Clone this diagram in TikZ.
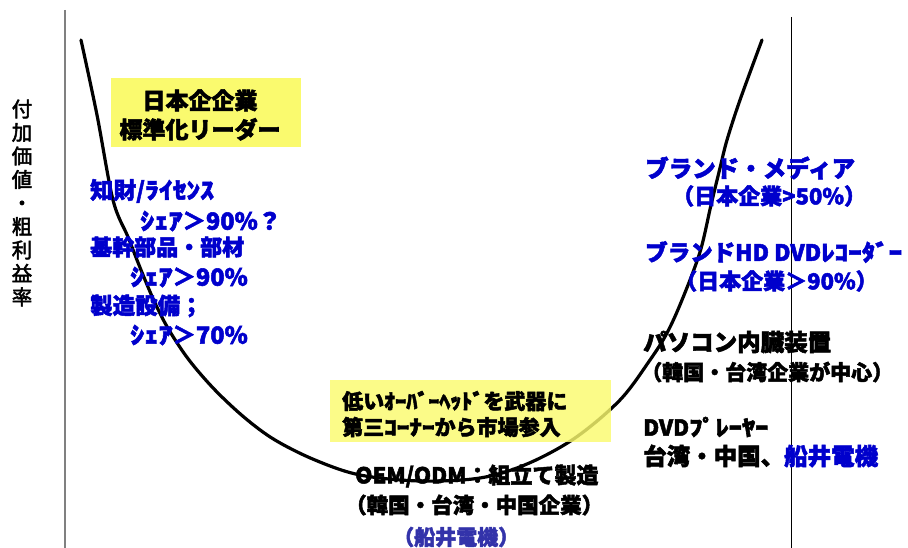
\documentclass[tikz,border=0pt]{standalone}
\usepackage{fontspec}
\usepackage{graphicx}
\setmainfont{Noto Sans CJK JP}[BoldFeatures={FakeBold=2.2}]
\newfontfamily\axfont{Noto Sans CJK JP}[FakeBold=2.5]
\definecolor{tblue}{RGB}{0,0,204}
\definecolor{fblue}{RGB}{51,51,170}
\definecolor{boxy}{RGB}{250,250,110}
\definecolor{axgray}{RGB}{128,128,128}
\newcommand\hk[1]{\scalebox{1.2}[1]{#1}}
\newcommand\hkn[1]{\scalebox{1.05}[1]{#1}}
\newcommand\fs[1]{\fontsize{#1}{#1}\selectfont}
\tikzset{
  lbl/.style={anchor=west, inner sep=0pt, font=\bfseries},
  bl/.style={lbl, text=tblue},
  ybox/.style={fill=boxy, draw=none},
}
\begin{document}
\begin{tikzpicture}[x=1pt,y=-1pt]
\useasboundingbox (0,0) rectangle (908,548);
% axes
\coordinate (lt) at (65,10); \coordinate (lb) at (65,548);
\coordinate (rt) at (791,17); \coordinate (rb) at (791,548);
\draw[axgray, line width=2pt] (lt) -- (lb);
\draw[black, line width=0.8pt] (rt) -- (rb);
% y label
\node[inner sep=0pt, align=center, font=\axfont\fontsize{20.5}{23.5}\selectfont] (ylab) at (22,203)
 {付\\加\\価\\値\\・\\粗\\利\\益\\率};
% box 1
\fill[ybox] (111,78) rectangle (301,147);
\node[inner sep=0pt, align=center, font=\bfseries\fontsize{23}{29}\selectfont] (b1) at (200,115)
 {日本企企業\\標準化リーダー};
% curve
\draw[line width=3.2pt, line cap=round] plot[smooth, tension=0.55] coordinates {
 (81,40) (97,115) (113,200) (128,237) (141,270) (155,303) (169,330) (189,360)
 (215,390) (245,418) (275,440) (315,460) (360,475) (420,481) (480,478)
 (527,464) (575,438) (620,400) (650,360) (667,333) (682,300) (700,252)
 (711,205) (720,168) (727,140) (740,100) (762,40)};
% box 2 (over curve)
\fill[ybox, fill opacity=0.82] (330,380) rectangle (611,442);
\node[lbl, font=\bfseries\fs{21}] (b2a) at (342,401) {低い\hkn{ｵｰﾊﾞｰﾍｯﾄﾞ}を武器に};
\node[lbl, font=\bfseries\fs{21}] (b2b) at (342,427) {第三\hk{ｺｰﾅｰ}から市場参入};
% left blue
\node[bl, font=\bfseries\fs{23}] (l1) at (90,191) {知財/\hk{ﾗｲｾﾝｽ}};
\node[bl, font=\bfseries\fs{23.5}] (l2) at (140,221) {\hk{ｼｪｱ}＞90\%？};
\node[bl, font=\bfseries\fs{22}] (l3) at (90,247) {基幹部品・部材};
\node[bl, font=\bfseries\fs{23.5}] (l4) at (130,277) {\hk{ｼｪｱ}＞90\%};
\node[bl, font=\bfseries\fs{22.5}] (l5) at (90,306) {製造設備；};
\node[bl, font=\bfseries\fs{23.5}] (l6) at (130,335) {\hk{ｼｪｱ}＞70\%};
% right
\node[bl, font=\bfseries\fs{23.5}] (r1) at (645,168) {ブランド・メディア};
\node[bl, font=\bfseries\fs{22}] (r2) at (672,196) {（日本企業>50\%）};
\node[bl, font=\bfseries\fs{22.5}] (r3) at (645,252) {ブランドHD DVD\hk{ﾚｺｰﾀﾞｰ}};
\node[bl, font=\bfseries\fs{22}] (r4) at (675,281) {（日本企業＞90\%）};
\node[lbl, font=\bfseries\fs{23.5}] (r5) at (643,342) {パソコン内臓装置};
\node[lbl, font=\bfseries\fs{21}] (r6) at (641,372) {（韓国・台湾企業が中心）};
\node[lbl, font=\bfseries\fs{22}] (r7) at (643,427) {DVD\hk{ﾌﾟﾚｰﾔｰ}};
\node[lbl, font=\bfseries\fs{23.5}] (r8) at (643,456) {台湾・中国、\textcolor{tblue}{船井電機}};
% bottom
\node[lbl, font=\bfseries\fs{22}] (m1) at (355,476) {OEM/ODM：組立て製造};
\node[lbl, font=\bfseries\fs{21.5}] (m2) at (345,505) {（韓国・台湾・中国企業）};
\node[lbl, text=fblue, font=\bfseries\fs{21}] (m3) at (393,537) {（船井電機）};
\end{tikzpicture}
\end{document}
